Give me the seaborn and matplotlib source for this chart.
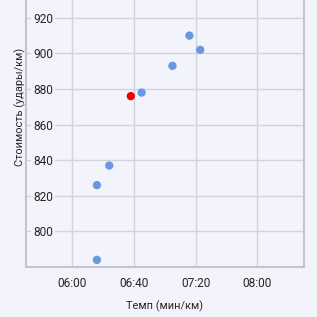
import numpy as np
import pandas as pd
import matplotlib
matplotlib.use("Agg")
import matplotlib.pyplot as plt
from matplotlib.ticker import FuncFormatter
import seaborn as sns

# pace (min:sec per km) and cost (steps per km)
pace = ["6:16", "6:24", "6:16", "6:45", "7:05", "7:16", "7:23"]
cost = [784, 837, 826, 878, 893, 910, 902]
# highlighted run
hl_pace = ["6:38"]
hl_cost = [876]

x_ticks = ["06:00", "06:40", "07:20", "08:00"]
y_ticks = [800, 820, 840, 860, 880, 900, 920]

bg = "#f3f3fb"
grid_c = "#d3d3db"
spine_c = "#c4c4cc"


def to_sec(s):
    m, sec = s.split(":")
    return int(m) * 60 + int(sec)


df = pd.DataFrame({
    "pace": [to_sec(p) for p in pace + hl_pace],
    "cost": cost + hl_cost,
    "kind": ["other"] * len(pace) + ["current"] * len(hl_pace),
})

sns.set_style("whitegrid")
plt.rcParams["font.family"] = ["Roboto", "DejaVu Sans"]

fig = plt.figure(figsize=(3.17, 3.17), dpi=100, facecolor=bg)
ax = fig.add_axes([26 / 317, 50 / 317, 277.5 / 317, 267 / 317])
ax.set_facecolor(bg)

sns.scatterplot(data=df, x="pace", y="cost", hue="kind",
                palette={"other": "#6a98e0", "current": "#f00000"},
                s=36, linewidth=0, legend=False, ax=ax, zorder=3)

ax.set_xlim(330, 510)
ax.set_ylim(780, 930)
ax.set_xticks([to_sec(t) for t in x_ticks])
ax.set_yticks(y_ticks)
ax.xaxis.set_major_formatter(FuncFormatter(lambda v, p: f"{int(v // 60):02d}:{int(v % 60):02d}"))

ax.grid(True, color=grid_c, linewidth=1)
ax.set_axisbelow(True)
for side in ["left", "bottom", "right"]:
    ax.spines[side].set_visible(True)
    ax.spines[side].set_color(spine_c)
    ax.spines[side].set_linewidth(1.5)
ax.spines["top"].set_visible(False)

ax.tick_params(axis="both", length=0, labelsize=8.6, colors="#262626")
ax.tick_params(axis="x", pad=7)
ax.tick_params(axis="y", pad=-19.5)
for t in ax.get_yticklabels():
    t.set_bbox(dict(facecolor=bg, edgecolor="none", pad=1.5))
    t.set_zorder(4)

ax.set_xlabel("Темп (мин/км)", fontsize=7.9, color="#262626", labelpad=8)
ax.set_ylabel("Стоимость (удары/км)", fontsize=7.9, color="#262626")
ax.yaxis.set_label_coords(0.0, 0.6)

fig.savefig("out.png", dpi=100, facecolor=bg)
